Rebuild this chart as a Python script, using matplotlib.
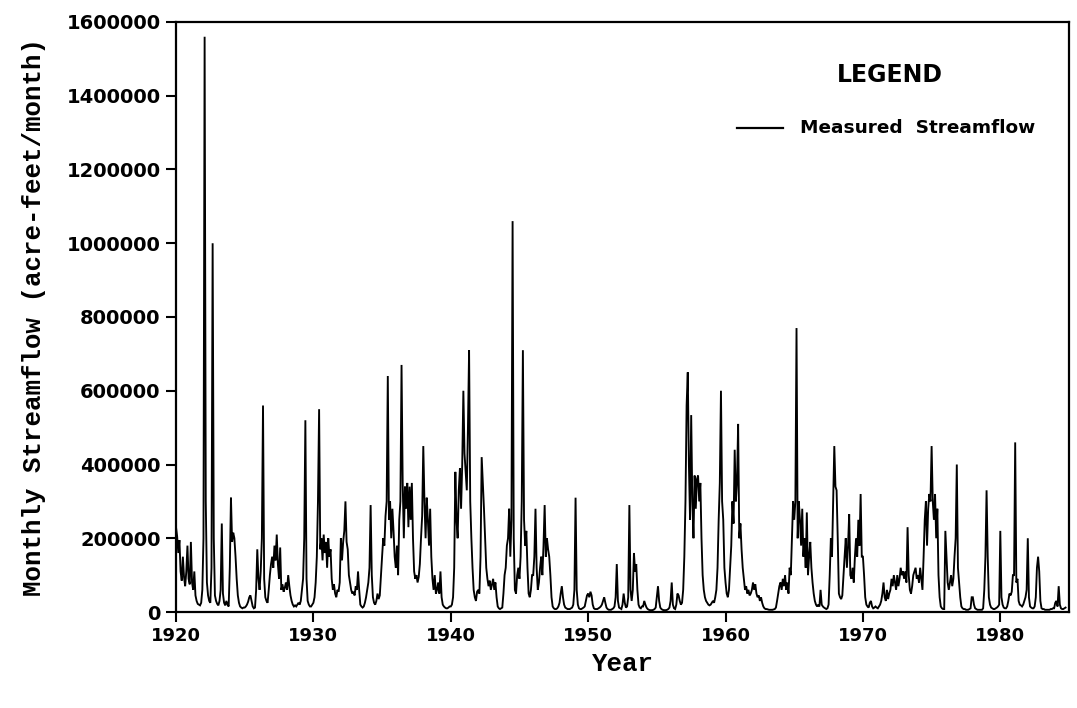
import numpy as np
import matplotlib
matplotlib.use("Agg")
import matplotlib.pyplot as plt
from matplotlib.lines import Line2D

# Monthly streamflow, thousands of acre-feet per month (Jan..Dec per row)
flow_1920s = [
    230, 205, 160, 195, 110, 85, 150, 95, 70, 110, 180, 90,      # 1920
    75, 190, 80, 60, 110, 45, 30, 22, 20, 18, 25, 60,            # 1921
    200, 1560, 300, 80, 45, 30, 25, 120, 1000, 200, 45, 30,      # 1922
    22, 18, 30, 60, 240, 50, 25, 18, 30, 20, 15, 120,            # 1923
    310, 190, 215, 200, 150, 90, 45, 25, 15, 12, 10, 12,         # 1924
    12, 15, 20, 28, 40, 45, 30, 15, 10, 12, 60, 170,             # 1925
    90, 60, 110, 200, 560, 90, 40, 30, 25, 60, 100, 130,         # 1926
    150, 120, 180, 140, 210, 130, 90, 175, 60, 75, 55, 65,       # 1927
    80, 60, 100, 70, 45, 30, 20, 15, 18, 15, 20, 25,             # 1928
    20, 30, 60, 90, 200, 520, 90, 30, 20, 15, 15, 20,            # 1929
]
flow_1930s = [
    25, 40, 80, 150, 300, 550, 170, 200, 140, 210, 160, 190,     # 1930
    120, 200, 150, 170, 90, 60, 75, 50, 40, 60, 55, 80,          # 1931
    200, 140, 190, 220, 300, 190, 170, 100, 80, 60, 50, 55,      # 1932
    45, 70, 60, 110, 60, 20, 15, 12, 15, 25, 40, 60,             # 1933
    80, 120, 290, 100, 40, 25, 20, 30, 50, 35, 45, 100,          # 1934
    150, 200, 180, 260, 300, 640, 250, 300, 200, 280, 220, 150,  # 1935
    120, 180, 100, 250, 300, 670, 350, 200, 340, 280, 350, 230,  # 1936
    340, 250, 350, 200, 110, 90, 100, 80, 95, 130, 200, 260,     # 1937
    450, 300, 200, 310, 250, 180, 280, 150, 90, 60, 100, 50,     # 1938
    60, 80, 50, 110, 40, 20, 15, 12, 10, 10, 12, 15,             # 1939
]
flow_1940s = [
    15, 20, 40, 120, 380, 250, 200, 330, 390, 280, 400, 600,     # 1940
    430, 380, 330, 500, 710, 300, 200, 120, 60, 40, 30, 55,      # 1941
    60, 50, 150, 420, 350, 280, 200, 120, 90, 70, 85, 60,        # 1942
    75, 90, 60, 80, 40, 15, 10, 8, 10, 12, 50, 100,              # 1943
    120, 180, 200, 280, 150, 250, 1060, 200, 60, 50, 100, 120,   # 1944
    90, 150, 300, 710, 250, 180, 220, 120, 50, 40, 60, 100,      # 1945
    100, 150, 280, 120, 60, 80, 120, 150, 100, 180, 290, 150,    # 1946
    200, 170, 150, 100, 40, 15, 10, 8, 8, 10, 15, 25,            # 1947
    50, 70, 40, 20, 12, 10, 8, 8, 8, 10, 12, 20,                 # 1948
    60, 310, 60, 20, 10, 8, 8, 10, 12, 15, 30, 45,               # 1949
]
flow_1950s = [
    50, 40, 55, 45, 20, 10, 8, 8, 8, 10, 12, 15,                 # 1950
    20, 30, 40, 25, 12, 8, 6, 6, 6, 8, 10, 15,                   # 1951
    40, 130, 30, 12, 10, 8, 20, 50, 25, 12, 15, 40,              # 1952
    290, 60, 30, 60, 160, 110, 130, 60, 20, 12, 10, 15,          # 1953
    15, 30, 20, 12, 8, 6, 5, 5, 5, 6, 8, 12,                     # 1954
    40, 70, 30, 12, 8, 6, 5, 5, 5, 6, 8, 12,                     # 1955
    30, 80, 20, 10, 8, 20, 50, 45, 30, 20, 25, 60,               # 1956
    150, 300, 560, 650, 400, 250, 534, 300, 200, 370, 280, 360,  # 1957
    370, 300, 350, 200, 100, 60, 40, 30, 25, 20, 18, 20,         # 1958
    25, 30, 25, 40, 60, 120, 250, 350, 600, 300, 250, 120,       # 1959
]
flow_1960s = [
    80, 50, 40, 60, 120, 180, 300, 240, 440, 300, 350, 510,      # 1960
    200, 240, 170, 120, 90, 60, 70, 50, 60, 45, 50, 60,          # 1961
    80, 60, 75, 50, 40, 45, 30, 40, 25, 15, 10, 8,               # 1962
    8, 7, 6, 6, 6, 6, 7, 8, 12, 30, 50, 70,                      # 1963
    80, 60, 90, 70, 100, 60, 80, 50, 120, 100, 200, 300,         # 1964
    250, 300, 770, 200, 300, 250, 180, 280, 150, 200, 120, 270,  # 1965
    100, 150, 190, 120, 80, 50, 30, 20, 15, 20, 15, 60,          # 1966
    20, 15, 12, 10, 8, 10, 20, 100, 200, 150, 300, 450,          # 1967
    340, 330, 200, 50, 40, 35, 45, 100, 150, 200, 120, 180,      # 1968
    265, 100, 90, 120, 80, 150, 200, 150, 250, 180, 320, 150,    # 1969
]
flow_1970s = [
    150, 100, 40, 20, 15, 12, 25, 30, 15, 10, 12, 15,            # 1970
    12, 10, 15, 20, 30, 50, 80, 40, 30, 60, 35, 50,              # 1971
    60, 90, 70, 100, 80, 60, 100, 70, 90, 120, 100, 110,         # 1972
    90, 110, 80, 230, 100, 60, 50, 70, 100, 110, 120, 90,        # 1973
    100, 80, 120, 90, 60, 150, 250, 300, 180, 280, 320, 300,     # 1974
    450, 300, 250, 320, 200, 280, 100, 40, 15, 10, 8, 8,         # 1975
    220, 150, 80, 60, 80, 100, 70, 90, 150, 200, 400, 120,       # 1976
    80, 40, 15, 10, 8, 8, 6, 6, 6, 8, 10, 40,                    # 1977
    40, 20, 10, 8, 6, 6, 6, 6, 6, 10, 60, 150,                   # 1978
    330, 150, 40, 20, 12, 10, 8, 8, 10, 12, 15, 20,              # 1979
]
flow_1980s = [
    220, 40, 20, 12, 10, 10, 15, 30, 50, 45, 55, 100,            # 1980
    100, 460, 80, 90, 30, 20, 18, 15, 20, 30, 40, 60,            # 1981
    200, 40, 15, 12, 10, 10, 15, 40, 120, 150, 110, 30,          # 1982
    10, 8, 8, 6, 6, 6, 6, 6, 8, 8, 10, 10,                       # 1983
    25, 30, 15, 70, 20, 10, 8, 8, 10, 12,                        # 1984
]

start_year = 1920
year_ticks = [1920, 1930, 1940, 1950, 1960, 1970, 1980]
flow_ticks = [0, 200000, 400000, 600000, 800000, 1000000, 1200000, 1400000, 1600000]
flow_tick_labels = ["0", "200000", "400000", "600000", "800000", "1000000",
                    "1200000", "1400000", "1600000"]

flow = np.array(flow_1920s + flow_1930s + flow_1940s + flow_1950s
                + flow_1960s + flow_1970s + flow_1980s, dtype=float) * 1000.0
t = start_year + np.arange(flow.size) / 12.0

fig = plt.figure(figsize=(10.77, 7.08), dpi=100)
ax = fig.add_axes([176 / 1077, 1 - 612 / 708, (1069 - 176) / 1077, (612 - 22) / 708])

ax.plot(t, flow, color="black", linewidth=1.35, solid_joinstyle="miter")

ax.set_xlim(1920, 1985)
ax.set_ylim(0, 1600000)

ax.set_xticks(year_ticks)
ax.set_xticklabels([str(y) for y in year_ticks],
                   fontdict=dict(family="DejaVu Sans", weight="bold", size=13))
ax.set_yticks(flow_ticks)
ax.set_yticklabels(flow_tick_labels,
                   fontdict=dict(family="DejaVu Sans", weight="bold", size=14))
ax.tick_params(axis="both", direction="out", length=7, width=1.5, color="black", pad=4)

for s in ax.spines.values():
    s.set_linewidth(1.6)
    s.set_color("black")

label_font = dict(family="Liberation Mono", weight="bold", size=18.5)
ax.set_xlabel("Year", fontdict=label_font, labelpad=5)
ax.set_ylabel("Monthly Streamflow (acre-feet/month)", fontdict=label_font, labelpad=15)

# Legend block in the upper right of the axes
ax.text(0.7996, 0.910, "LEGEND", transform=ax.transAxes, ha="center", va="center",
        family="DejaVu Sans", weight="bold", size=17)
ax.add_line(Line2D([0.628, 0.680], [0.8203, 0.8203], transform=ax.transAxes,
                   color="black", linewidth=1.6))
ax.text(0.6988, 0.8203, "Measured  Streamflow", transform=ax.transAxes, ha="left",
        va="center", family="DejaVu Sans", weight="bold", size=13.3)

fig.savefig("out.png", dpi=100, facecolor="white")
